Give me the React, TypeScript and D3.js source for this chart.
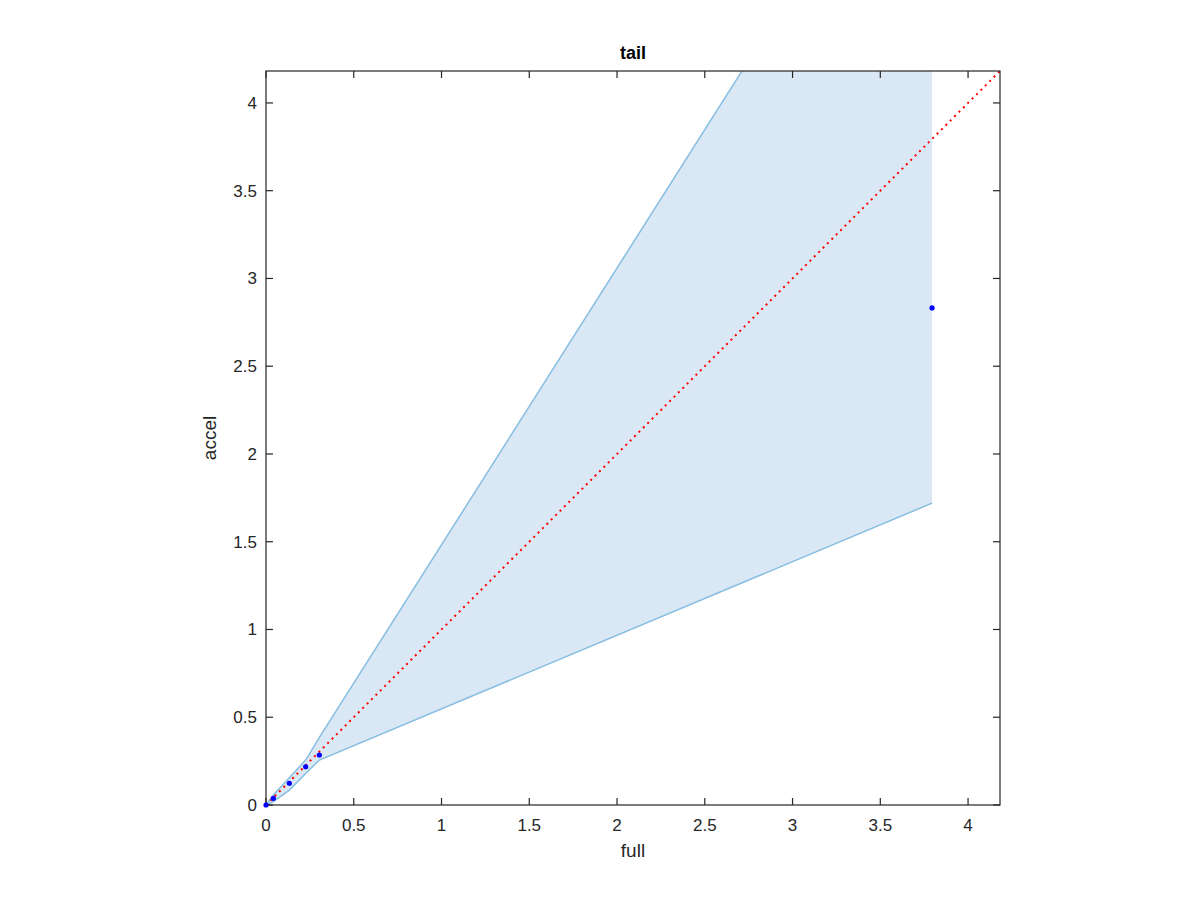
import React from "react";
import * as d3 from "d3";

const xs = [0, 0.042, 0.133, 0.226, 0.304, 3.795];
const ys = [0, 0.038, 0.124, 0.218, 0.285, 2.832];
const upper = [0, 0.057, 0.155, 0.256, 0.385, 5.89];
const lower = [0, 0.02, 0.085, 0.18, 0.256, 1.72];
const ticks = [0, 0.5, 1, 1.5, 2, 2.5, 3, 3.5, 4];
const tickLabels = ["0", "0.5", "1", "1.5", "2", "2.5", "3", "3.5", "4"];
const axisMax = 4.182;

export default function App() {
  const L = 266, R = 1000, T = 71, B = 805;
  const x = d3.scaleLinear().domain([0, axisMax]).range([L, R]);
  const y = d3.scaleLinear().domain([0, axisMax]).range([B, T]);
  const bandData = xs.map((v, i) => ({ x: v, u: upper[i], l: lower[i] }));
  const area = d3.area<any>().x(d => x(d.x)).y0(d => y(d.l)).y1(d => y(d.u));
  const upLine = d3.line<any>().x(d => x(d.x)).y(d => y(d.u));
  const loLine = d3.line<any>().x(d => x(d.x)).y(d => y(d.l));
  const axisColor = "#262626";
  const font = "Helvetica, 'Liberation Sans', Arial, sans-serif";
  const tl = 7;
  return (
    <svg width={1200} height={900} style={{ position: "absolute", left: 0, top: 0, background: "#fff" }}>
      <defs>
        <clipPath id="plotclip">
          <rect x={L} y={T} width={R - L} height={B - T} />
        </clipPath>
      </defs>
      <g clipPath="url(#plotclip)">
        <path d={area(bandData) || ""} fill="#d9e8f4" stroke="none" />
        <path d={upLine(bandData) || ""} fill="none" stroke="#86bde2" strokeWidth={1.5} />
        <path d={loLine(bandData) || ""} fill="none" stroke="#86bde2" strokeWidth={1.5} />
        <line x1={x(0)} y1={y(0)} x2={x(axisMax)} y2={y(axisMax)} stroke="#ff0000" strokeWidth={2} strokeDasharray="2,4.2" />
      </g>
      <rect x={L} y={T} width={R - L} height={B - T} fill="none" stroke={axisColor} strokeWidth={1.2} />
      {ticks.map((t, i) => (
        <g key={i}>
          <line x1={x(t)} x2={x(t)} y1={B} y2={B - tl} stroke={axisColor} strokeWidth={1.2} />
          <line x1={x(t)} x2={x(t)} y1={T} y2={T + tl} stroke={axisColor} strokeWidth={1.2} />
          <line x1={L} x2={L + tl} y1={y(t)} y2={y(t)} stroke={axisColor} strokeWidth={1.2} />
          <line x1={R} x2={R - tl} y1={y(t)} y2={y(t)} stroke={axisColor} strokeWidth={1.2} />
          <text x={x(t)} y={B + 26} textAnchor="middle" fontFamily={font} fontSize={17} fill={axisColor}>{tickLabels[i]}</text>
          <text x={L - 9} y={y(t) + 6} textAnchor="end" fontFamily={font} fontSize={17} fill={axisColor}>{tickLabels[i]}</text>
        </g>
      ))}
      {xs.map((v, i) => (
        <circle key={i} cx={x(v)} cy={y(ys[i])} r={2.6} fill="#0000ff" />
      ))}
      <text x={(L + R) / 2} y={857} textAnchor="middle" fontFamily={font} fontSize={19} fill={axisColor}>full</text>
      <text transform={`translate(216,${(T + B) / 2}) rotate(-90)`} textAnchor="middle" fontFamily={font} fontSize={19} fill={axisColor}>accel</text>
      <text x={(L + R) / 2} y={59} textAnchor="middle" fontFamily={font} fontSize={18} fontWeight="bold" fill="#000">tail</text>
    </svg>
  );
}
